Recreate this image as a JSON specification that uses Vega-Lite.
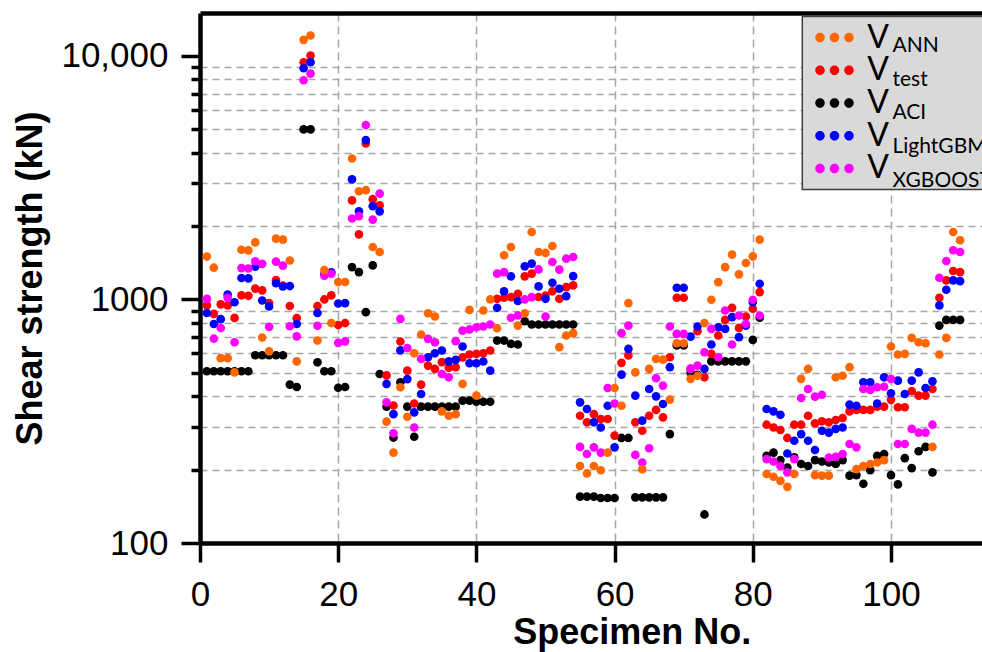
{
  "$schema": "https://vega.github.io/schema/vega-lite/v6.json",
  "autosize": {"type": "none"},
  "padding": {"left": 200, "top": 13, "right": 0, "bottom": 109},
  "width": 782,
  "height": 530,
  "background": "white",
  "config": {
    "view": {"stroke": null},
    "axis": {"labelFont": "Liberation Sans", "titleFont": "Liberation Sans", "labelColor": "black", "titleColor": "black"},
    "legend": {"strokeWidth": 1.5}
  },
  "datasets": {
    "spec": [
      {"n":1,"ANN":1500,"test":945,"ACI":507,"LightGBM":880,"XGBOOST":1005},
      {"n":2,"ANN":1350,"test":872,"ACI":507,"LightGBM":793,"XGBOOST":690},
      {"n":3,"ANN":574,"test":955,"ACI":507,"LightGBM":830,"XGBOOST":763},
      {"n":4,"ANN":574,"test":944,"ACI":507,"LightGBM":1048,"XGBOOST":1015},
      {"n":5,"ANN":502,"test":840,"ACI":507,"LightGBM":974,"XGBOOST":667},
      {"n":6,"ANN":1600,"test":1040,"ACI":507,"LightGBM":1225,"XGBOOST":1345},
      {"n":7,"ANN":1590,"test":1035,"ACI":507,"LightGBM":1220,"XGBOOST":1340},
      {"n":8,"ANN":1715,"test":1108,"ACI":590,"LightGBM":1362,"XGBOOST":1433},
      {"n":9,"ANN":698,"test":1090,"ACI":590,"LightGBM":990,"XGBOOST":1400},
      {"n":10,"ANN":612,"test":967,"ACI":590,"LightGBM":936,"XGBOOST":772},
      {"n":11,"ANN":1777,"test":1200,"ACI":590,"LightGBM":1165,"XGBOOST":1430},
      {"n":12,"ANN":1760,"test":1140,"ACI":590,"LightGBM":1130,"XGBOOST":1376},
      {"n":13,"ANN":1445,"test":940,"ACI":447,"LightGBM":1135,"XGBOOST":776},
      {"n":14,"ANN":557,"test":838,"ACI":437,"LightGBM":793,"XGBOOST":705},
      {"n":15,"ANN":11640,"test":9420,"ACI":4990,"LightGBM":8900,"XGBOOST":7940},
      {"n":16,"ANN":12130,"test":10030,"ACI":4990,"LightGBM":9420,"XGBOOST":8460},
      {"n":17,"ANN":678,"test":940,"ACI":552,"LightGBM":880,"XGBOOST":780},
      {"n":18,"ANN":1320,"test":1000,"ACI":507,"LightGBM":1270,"XGBOOST":1253},
      {"n":19,"ANN":800,"test":1040,"ACI":507,"LightGBM":1292,"XGBOOST":1275},
      {"n":20,"ANN":1179,"test":785,"ACI":434,"LightGBM":962,"XGBOOST":663},
      {"n":21,"ANN":1179,"test":800,"ACI":437,"LightGBM":966,"XGBOOST":673},
      {"n":22,"ANN":3790,"test":2550,"ACI":1358,"LightGBM":3110,"XGBOOST":2150},
      {"n":23,"ANN":2780,"test":1850,"ACI":1295,"LightGBM":2300,"XGBOOST":2197},
      {"n":24,"ANN":2810,"test":4370,"ACI":887,"LightGBM":4510,"XGBOOST":5200},
      {"n":25,"ANN":1642,"test":2580,"ACI":1380,"LightGBM":2414,"XGBOOST":2128},
      {"n":26,"ANN":1566,"test":2436,"ACI":494,"LightGBM":2300,"XGBOOST":2720},
      {"n":27,"ANN":315,"test":488,"ACI":363,"LightGBM":450,"XGBOOST":378},
      {"n":28,"ANN":235,"test":367,"ACI":271,"LightGBM":338,"XGBOOST":282},
      {"n":29,"ANN":436,"test":672,"ACI":457,"LightGBM":618,"XGBOOST":832},
      {"n":30,"ANN":330,"test":510,"ACI":363,"LightGBM":471,"XGBOOST":632},
      {"n":31,"ANN":601,"test":374,"ACI":273,"LightGBM":344,"XGBOOST":298},
      {"n":32,"ANN":718,"test":447,"ACI":363,"LightGBM":409,"XGBOOST":570},
      {"n":33,"ANN":878,"test":535,"ACI":363,"LightGBM":579,"XGBOOST":689},
      {"n":34,"ANN":851,"test":519,"ACI":363,"LightGBM":601,"XGBOOST":667},
      {"n":35,"ANN":347,"test":553,"ACI":363,"LightGBM":617,"XGBOOST":494},
      {"n":36,"ANN":333,"test":524,"ACI":363,"LightGBM":557,"XGBOOST":479},
      {"n":37,"ANN":338,"test":527,"ACI":363,"LightGBM":565,"XGBOOST":674},
      {"n":38,"ANN":450,"test":578,"ACI":384,"LightGBM":641,"XGBOOST":745},
      {"n":39,"ANN":906,"test":594,"ACI":384,"LightGBM":547,"XGBOOST":753},
      {"n":40,"ANN":403,"test":598,"ACI":380,"LightGBM":547,"XGBOOST":769},
      {"n":41,"ANN":901,"test":601,"ACI":380,"LightGBM":556,"XGBOOST":774},
      {"n":42,"ANN":1000,"test":617,"ACI":380,"LightGBM":510,"XGBOOST":789},
      {"n":43,"ANN":762,"test":1006,"ACI":678,"LightGBM":924,"XGBOOST":1276},
      {"n":44,"ANN":1518,"test":1016,"ACI":678,"LightGBM":1079,"XGBOOST":1295},
      {"n":45,"ANN":1642,"test":1022,"ACI":657,"LightGBM":1244,"XGBOOST":841},
      {"n":46,"ANN":781,"test":1055,"ACI":653,"LightGBM":985,"XGBOOST":859},
      {"n":47,"ANN":878,"test":1244,"ACI":814,"LightGBM":1367,"XGBOOST":1000},
      {"n":48,"ANN":1892,"test":1276,"ACI":789,"LightGBM":1403,"XGBOOST":1022},
      {"n":49,"ANN":1566,"test":1023,"ACI":789,"LightGBM":1131,"XGBOOST":1328},
      {"n":50,"ANN":1552,"test":1038,"ACI":789,"LightGBM":1006,"XGBOOST":851},
      {"n":51,"ANN":1657,"test":1080,"ACI":789,"LightGBM":1171,"XGBOOST":1425},
      {"n":52,"ANN":637,"test":1006,"ACI":789,"LightGBM":1106,"XGBOOST":1325},
      {"n":53,"ANN":711,"test":1124,"ACI":789,"LightGBM":1032,"XGBOOST":1470},
      {"n":54,"ANN":727,"test":1142,"ACI":789,"LightGBM":1247,"XGBOOST":1494},
      {"n":55,"ANN":207,"test":333,"ACI":155,"LightGBM":378,"XGBOOST":248},
      {"n":56,"ANN":193,"test":313,"ACI":155,"LightGBM":355,"XGBOOST":232},
      {"n":57,"ANN":207,"test":338,"ACI":155,"LightGBM":313,"XGBOOST":247},
      {"n":58,"ANN":199,"test":323,"ACI":153,"LightGBM":298,"XGBOOST":235},
      {"n":59,"ANN":235,"test":323,"ACI":153,"LightGBM":366,"XGBOOST":433},
      {"n":60,"ANN":433,"test":276,"ACI":153,"LightGBM":247,"XGBOOST":374},
      {"n":61,"ANN":366,"test":549,"ACI":270,"LightGBM":491,"XGBOOST":727},
      {"n":62,"ANN":966,"test":589,"ACI":270,"LightGBM":627,"XGBOOST":781},
      {"n":63,"ANN":502,"test":313,"ACI":154,"LightGBM":403,"XGBOOST":230},
      {"n":64,"ANN":201,"test":289,"ACI":154,"LightGBM":318,"XGBOOST":214},
      {"n":65,"ANN":519,"test":333,"ACI":154,"LightGBM":429,"XGBOOST":245},
      {"n":66,"ANN":570,"test":352,"ACI":154,"LightGBM":400,"XGBOOST":475},
      {"n":67,"ANN":566,"test":328,"ACI":154,"LightGBM":372,"XGBOOST":443},
      {"n":68,"ANN":388,"test":579,"ACI":280,"LightGBM":527,"XGBOOST":774},
      {"n":69,"ANN":661,"test":1016,"ACI":647,"LightGBM":1117,"XGBOOST":722},
      {"n":70,"ANN":661,"test":1016,"ACI":647,"LightGBM":1117,"XGBOOST":722},
      {"n":71,"ANN":472,"test":520,"ACI":500,"LightGBM":704,"XGBOOST":519},
      {"n":72,"ANN":486,"test":741,"ACI":490,"LightGBM":774,"XGBOOST":535},
      {"n":73,"ANN":800,"test":479,"ACI":131,"LightGBM":519,"XGBOOST":607},
      {"n":74,"ANN":997,"test":598,"ACI":557,"LightGBM":653,"XGBOOST":757},
      {"n":75,"ANN":1178,"test":711,"ACI":557,"LightGBM":769,"XGBOOST":579},
      {"n":76,"ANN":1358,"test":824,"ACI":557,"LightGBM":757,"XGBOOST":901},
      {"n":77,"ANN":1527,"test":924,"ACI":557,"LightGBM":846,"XGBOOST":653},
      {"n":78,"ANN":1268,"test":764,"ACI":557,"LightGBM":700,"XGBOOST":859},
      {"n":79,"ANN":1411,"test":851,"ACI":557,"LightGBM":781,"XGBOOST":794},
      {"n":80,"ANN":1503,"test":916,"ACI":682,"LightGBM":975,"XGBOOST":997},
      {"n":81,"ANN":1760,"test":1072,"ACI":841,"LightGBM":1160,"XGBOOST":859},
      {"n":82,"ANN":192,"test":306,"ACI":228,"LightGBM":355,"XGBOOST":221},
      {"n":83,"ANN":187,"test":298,"ACI":235,"LightGBM":347,"XGBOOST":216},
      {"n":84,"ANN":180,"test":291,"ACI":219,"LightGBM":336,"XGBOOST":207},
      {"n":85,"ANN":170,"test":270,"ACI":204,"LightGBM":233,"XGBOOST":195},
      {"n":86,"ANN":192,"test":306,"ACI":225,"LightGBM":263,"XGBOOST":221},
      {"n":87,"ANN":472,"test":306,"ACI":211,"LightGBM":280,"XGBOOST":394},
      {"n":88,"ANN":519,"test":333,"ACI":207,"LightGBM":263,"XGBOOST":429},
      {"n":89,"ANN":190,"test":310,"ACI":219,"LightGBM":241,"XGBOOST":399},
      {"n":90,"ANN":189,"test":316,"ACI":216,"LightGBM":289,"XGBOOST":406},
      {"n":91,"ANN":189,"test":313,"ACI":214,"LightGBM":284,"XGBOOST":224},
      {"n":92,"ANN":479,"test":320,"ACI":211,"LightGBM":294,"XGBOOST":226},
      {"n":93,"ANN":486,"test":326,"ACI":219,"LightGBM":298,"XGBOOST":232},
      {"n":94,"ANN":527,"test":347,"ACI":189,"LightGBM":370,"XGBOOST":255},
      {"n":95,"ANN":201,"test":352,"ACI":190,"LightGBM":366,"XGBOOST":247},
      {"n":96,"ANN":207,"test":352,"ACI":175,"LightGBM":457,"XGBOOST":429},
      {"n":97,"ANN":211,"test":352,"ACI":199,"LightGBM":457,"XGBOOST":425},
      {"n":98,"ANN":214,"test":363,"ACI":228,"LightGBM":374,"XGBOOST":436},
      {"n":99,"ANN":219,"test":363,"ACI":232,"LightGBM":479,"XGBOOST":438},
      {"n":100,"ANN":641,"test":387,"ACI":190,"LightGBM":412,"XGBOOST":472},
      {"n":101,"ANN":594,"test":361,"ACI":174,"LightGBM":464,"XGBOOST":255},
      {"n":102,"ANN":598,"test":361,"ACI":223,"LightGBM":409,"XGBOOST":255},
      {"n":103,"ANN":695,"test":420,"ACI":203,"LightGBM":464,"XGBOOST":294},
      {"n":104,"ANN":667,"test":403,"ACI":238,"LightGBM":502,"XGBOOST":284},
      {"n":105,"ANN":661,"test":403,"ACI":248,"LightGBM":433,"XGBOOST":284},
      {"n":106,"ANN":248,"test":429,"ACI":195,"LightGBM":461,"XGBOOST":306},
      {"n":107,"ANN":594,"test":1016,"ACI":781,"LightGBM":945,"XGBOOST":1228},
      {"n":108,"ANN":695,"test":1197,"ACI":824,"LightGBM":1096,"XGBOOST":1438},
      {"n":109,"ANN":1892,"test":1308,"ACI":824,"LightGBM":1197,"XGBOOST":1592},
      {"n":110,"ANN":1749,"test":1295,"ACI":824,"LightGBM":1189,"XGBOOST":1566}
    ],
    "series": [
      {"s": "ANN"}, {"s": "test"}, {"s": "ACI"}, {"s": "LightGBM"}, {"s": "XGBOOST"}
    ]
  },
  "resolve": {"axis": {"x": "independent"}},
  "layer": [
    {
      "data": {"name": "spec"},
      "mark": {"type": "point", "filled": true, "size": 75, "opacity": 1},
      "encoding": {
        "x": {
          "field": "n", "type": "quantitative",
          "scale": {"domain": [0, 113.17], "nice": false, "zero": false},
          "axis": {
            "orient": "bottom",
            "values": [0, 20, 40, 60, 80, 100],
            "title": "Specimen No.",
            "titleFontSize": 36, "titleFontWeight": "bold",
            "titleX": 431.7, "titleY": 100, "titleAlign": "center", "titleBaseline": "alphabetic", "titleAngle": 0,
            "labelFontSize": 35, "labelPadding": 15, "labelFlush": false, "labelOverlap": false, "labelBound": false,
            "tickSize": 19, "tickWidth": 3.5, "tickColor": "black",
            "domainWidth": 4.5, "domainColor": "black",
            "grid": true, "gridDash": [8, 5], "gridColor": "#a6a6a6", "gridWidth": 1.5,
            "gridOpacity": {"condition": {"test": "datum.value == 0", "value": 0}, "value": 1}
          }
        },
        "y": {
          "field": "ACI", "type": "quantitative",
          "scale": {"type": "log", "domain": [100, 15000], "nice": false},
          "axis": {
            "orient": "left",
            "values": [100, 200, 300, 400, 500, 600, 700, 800, 900, 1000, 2000, 3000, 4000, 5000, 6000, 7000, 8000, 9000, 10000],
            "labelExpr": "datum.value == 10000 ? '10,000' : datum.value == 1000 ? '1000' : datum.value == 100 ? '100' : ''",
            "title": "Shear strength (kN)",
            "titleFontSize": 36, "titleFontWeight": "bold",
            "titleX": -159, "titleY": 265, "titleAlign": "center", "titleBaseline": "alphabetic", "titleAngle": 270,
            "labelFontSize": 35, "labelPadding": 13, "labelFlush": false, "labelOverlap": false, "labelBound": false,
            "tickSize": {"condition": {"test": "datum.value == 100 || datum.value == 1000 || datum.value == 10000", "value": 19}, "value": 9},
            "tickWidth": 3.5, "tickColor": "black",
            "domainWidth": 4.5, "domainColor": "black",
            "grid": true, "gridDash": [7, 5], "gridColor": "#a6a6a6", "gridWidth": 1.5,
            "gridOpacity": {"condition": {"test": "datum.value == 100 || datum.value == 1000 || datum.value == 10000", "value": 0}, "value": 1}
          }
        },
        "color": {
          "datum": "ACI", "type": "nominal",
          "scale": {"domain": ["ANN", "test", "ACI", "LightGBM", "XGBOOST"], "range": ["#ff6600", "#ff0000", "#000000", "#0000ff", "#ff00ff"]},
          "legend": {
            "orient": "none", "legendX": 602.3, "legendY": 3.6, "title": null,
            "symbolType": "M -1 -1 M -1 1 M 12 0 M -0.503 0 A 0.297 0.297 0 1 0 0.091 0 A 0.297 0.297 0 1 0 -0.503 0 Z M 0.403 0 A 0.297 0.297 0 1 0 0.997 0 A 0.297 0.297 0 1 0 0.403 0 Z M 1.309 0 A 0.297 0.297 0 1 0 1.903 0 A 0.297 0.297 0 1 0 1.309 0 Z",
            "symbolSize": 1024, "symbolStrokeWidth": 0, "symbolOpacity": 1,
            "labelExpr": "'V'",
            "labelFont": "Lato", "labelFontSize": 32, "labelColor": "black", "labelOffset": 28, "labelLimit": 400,
            "padding": 5, "rowPadding": 0.7,
            "fillColor": "#d9d9d9", "strokeColor": "#404040", "zindex": 1
          }
        }
      }
    },
    {
      "data": {"name": "spec"},
      "mark": {"type": "point", "filled": true, "size": 75, "opacity": 1},
      "encoding": {
        "x": {
          "field": "n", "type": "quantitative",
          "axis": {"orient": "top", "labels": false, "ticks": false, "grid": false, "title": null, "domainWidth": 4.5, "domainColor": "black"}
        },
        "y": {"field": "test", "type": "quantitative"},
        "color": {"datum": "test", "type": "nominal"}
      }
    },
    {
      "data": {"name": "spec"},
      "mark": {"type": "point", "filled": true, "size": 75, "opacity": 1},
      "encoding": {
        "x": {"field": "n", "type": "quantitative", "axis": null},
        "y": {"field": "LightGBM", "type": "quantitative"},
        "color": {"datum": "LightGBM", "type": "nominal"}
      }
    },
    {
      "data": {"name": "spec"},
      "mark": {"type": "point", "filled": true, "size": 75, "opacity": 1},
      "encoding": {
        "x": {"field": "n", "type": "quantitative", "axis": null},
        "y": {"field": "XGBOOST", "type": "quantitative"},
        "color": {"datum": "XGBOOST", "type": "nominal"}
      }
    },
    {
      "data": {"name": "spec"},
      "mark": {"type": "point", "filled": true, "size": 75, "opacity": 1},
      "encoding": {
        "x": {"field": "n", "type": "quantitative", "axis": null},
        "y": {"field": "ANN", "type": "quantitative"},
        "color": {"datum": "ANN", "type": "nominal"}
      }
    },
    {
      "data": {"name": "series"},
      "mark": {"type": "point", "filled": true, "opacity": 0},
      "encoding": {
        "shape": {
          "field": "s", "type": "nominal", "sort": null,
          "scale": {"range": ["circle"]},
          "legend": {
            "orient": "none", "legendX": 671.5, "legendY": 22.5, "title": null,
            "symbolSize": 441, "symbolOpacity": 0, "symbolStrokeWidth": 0,
            "labelFont": "Lato", "labelFontSize": 21, "labelColor": "black", "labelOffset": 0, "labelLimit": 400,
            "padding": 0, "rowPadding": 11.7, "zindex": 2
          }
        }
      }
    }
  ]
}
